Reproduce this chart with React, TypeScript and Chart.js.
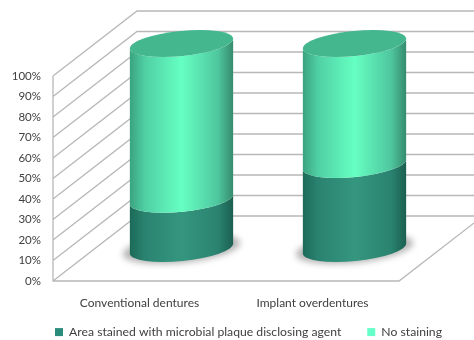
import React, { useEffect, useRef } from "react";
import { Chart, registerables } from "chart.js";

Chart.register(...registerables);

const categories = ["Conventional dentures", "Implant overdentures"];
const stainedArea = [24, 41];
const noStaining = [76, 59];
const seriesNames = ["Area stained with microbial plaque disclosing agent", "No staining"];
const percentTicks = [0, 10, 20, 30, 40, 50, 60, 70, 80, 90, 100];

const FONT = "Lato";
const TEXT = "#404040";
const GRID = "#b8b8b8";
const DEPTH_X = 84;
const DEPTH_Y = 65;
const TILT = -0.1;
const RY = 12.5;

const darkStops: [number, string][] = [
  [0, "#1c6a58"],
  [0.15, "#2a8370"],
  [0.5, "#35967f"],
  [0.85, "#2a8370"],
  [1, "#1b5f50"],
];
const lightStops: [number, string][] = [
  [0, "#3aa27f"],
  [0.15, "#50d0a4"],
  [0.5, "#66ffc2"],
  [0.85, "#4fc79f"],
  [1, "#358a6d"],
];
const capColor = "#45b78f";

// Receding walls and floor, derived from the value axis.
const framePlugin = {
  id: "frame",
  beforeDatasetsDraw(chart: any) {
    const { ctx, chartArea, scales } = chart;
    const y = scales.y;
    const { left, right, bottom } = chartArea;
    ctx.save();
    ctx.strokeStyle = GRID;
    ctx.lineWidth = 1.3;
    ctx.beginPath();
    for (const t of percentTicks) {
      const py = y.getPixelForValue(t);
      ctx.moveTo(left, py);
      ctx.lineTo(left + DEPTH_X, py - DEPTH_Y);
      ctx.lineTo(chart.width, py - DEPTH_Y);
    }
    ctx.moveTo(left, y.getPixelForValue(100));
    ctx.lineTo(left, bottom);
    ctx.lineTo(right, bottom);
    ctx.lineTo(right + DEPTH_X, bottom - DEPTH_Y);
    ctx.stroke();
    ctx.restore();
  },
};

function sideGradient(ctx: CanvasRenderingContext2D, x0: number, x1: number, stops: [number, string][]) {
  const g = ctx.createLinearGradient(x0, 0, x1, 0);
  stops.forEach(([at, color]) => g.addColorStop(at, color));
  return g;
}

// Renders each stacked bar as a tilted cylinder sitting mid-way along the floor depth.
const cylinderPlugin = {
  id: "cylinders",
  afterDatasetsDraw(chart: any) {
    const { ctx } = chart;
    const lower = chart.getDatasetMeta(0).data;
    const upper = chart.getDatasetMeta(1).data;
    lower.forEach((bar: any, i: number) => {
      const top = upper[i];
      const cx = bar.x + DEPTH_X / 2;
      const rx = bar.width / 2;
      const shift = -DEPTH_Y / 2;
      const yBase = bar.base + shift;
      const yMid = bar.y + shift;
      const yTop = top.y + shift;
      const x0 = cx - rx;
      const x1 = cx + rx;

      ctx.save();
      ctx.filter = "blur(3px)";
      ctx.fillStyle = "rgba(90,90,90,0.45)";
      ctx.beginPath();
      ctx.ellipse(cx, yBase, rx + 7, RY + 2, TILT, 0, Math.PI * 2);
      ctx.fill();
      ctx.restore();

      const segment = (yLow: number, yHigh: number, stops: [number, string][]) => {
        ctx.beginPath();
        ctx.ellipse(cx, yLow, rx, RY, TILT, 0, Math.PI);
        ctx.ellipse(cx, yHigh, rx, RY, TILT, Math.PI, 0, true);
        ctx.closePath();
        ctx.fillStyle = sideGradient(ctx, x0, x1, stops);
        ctx.fill();
      };
      segment(yBase, yMid, darkStops);
      segment(yMid, yTop, lightStops);

      ctx.beginPath();
      ctx.ellipse(cx, yTop, rx, RY, TILT, 0, Math.PI * 2);
      ctx.fillStyle = capColor;
      ctx.fill();
    });
  },
};

// Places the legend on its own line below the category labels.
const legendPlacement = {
  id: "legendPlacement",
  beforeLayout(chart: any) {
    const legend = chart.legend;
    if (!legend || legend.placed) return;
    const fit = legend.fit;
    legend.fit = function () {
      this.maxWidth = chart.width + 100;
      fit.call(this);
      this.height = 0;
    };
    legend.placed = true;
  },
  afterLayout(chart: any) {
    const legend = chart.legend;
    const pad = legend.options.labels.padding;
    legend.left = 0;
    legend.right = 497;
    legend.top = 326 - pad;
  },
};

export default function App() {
  const ref = useRef<HTMLCanvasElement>(null);
  useEffect(() => {
    const chart = new Chart(ref.current!, {
      type: "bar",
      data: {
        labels: categories,
        datasets: [
          { label: seriesNames[0], data: stainedArea, backgroundColor: "rgba(0,0,0,0)", borderWidth: 0 },
          { label: seriesNames[1], data: noStaining, backgroundColor: "rgba(0,0,0,0)", borderWidth: 0 },
        ],
      },
      options: {
        responsive: false,
        animation: false,
        layout: { padding: { top: 76, right: 75, left: 0, bottom: 0 } },
        datasets: { bar: { barPercentage: 0.6, categoryPercentage: 1 } },
        scales: {
          x: {
            stacked: true,
            grid: { display: false },
            border: { display: false },
            ticks: { color: TEXT, font: { family: FONT, size: 12 }, padding: 7, maxRotation: 0 },
            afterFit(s: any) {
              s.height = 59;
            },
          },
          y: {
            stacked: true,
            min: 0,
            max: 100,
            grid: { display: false },
            border: { display: false },
            afterBuildTicks(s: any) {
              s.ticks = percentTicks.map((value) => ({ value }));
            },
            ticks: {
              color: TEXT,
              font: { family: FONT, size: 11.5 },
              padding: 4,
              callback: (v: any) => `${v}%`,
            },
            afterFit(s: any) {
              s.width = 53;
            },
          },
        },
        plugins: {
          tooltip: { enabled: false },
          legend: {
            position: "bottom",
            labels: {
              color: TEXT,
              font: { family: FONT, size: 12.2 },
              boxWidth: 8,
              boxHeight: 8,
              padding: 26,
              generateLabels: () =>
                seriesNames.map((text, i) => ({
                  text,
                  fillStyle: i === 0 ? "#2a8c7a" : "#66ffc9",
                  strokeStyle: "rgba(0,0,0,0)",
                  lineWidth: 0,
                  fontColor: TEXT,
                  datasetIndex: i,
                })),
            },
          },
        },
      },
      plugins: [legendPlacement, framePlugin, cylinderPlugin],
    } as any);
    return () => chart.destroy();
  }, []);
  return (
    <div style={{ position: "absolute", left: 0, top: 0, width: 474, height: 340, background: "#fff" }}>
      <canvas ref={ref} width={474} height={340} />
    </div>
  );
}
